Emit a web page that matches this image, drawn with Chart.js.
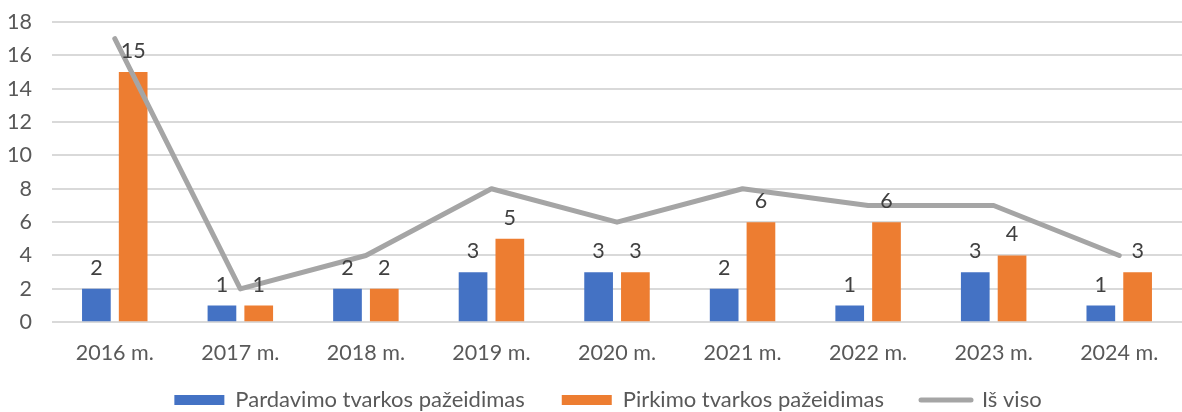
<!DOCTYPE html>
<html>
<head>
<meta charset="utf-8">
<script src="https://cdn.jsdelivr.net/npm/chart.js@4"></script>
<style>
  html, body { margin: 0; padding: 0; background: #fff; overflow: hidden; }
  #wrap { width: 1182px; height: 412px; }
</style>
</head>
<body>
<div id="wrap"><canvas id="chart" width="1182" height="412"></canvas></div>
<script>
const years = ['2016 m.', '2017 m.', '2018 m.', '2019 m.', '2020 m.', '2021 m.', '2022 m.', '2023 m.', '2024 m.'];
const pardavimo = [2, 1, 2, 3, 3, 2, 1, 3, 1];
const pirkimo = [15, 1, 2, 5, 3, 6, 6, 4, 3];
const isViso = [17, 2, 4, 8, 6, 8, 7, 7, 4];
const yTicks = [0, 2, 4, 6, 8, 10, 12, 14, 16, 18];

const FONT = 'Lato, "Open Sans", sans-serif';
const FSIZE = 21.5;

// numbers above the bars (the line has none)
const barLabels = {
    id: 'barLabels',
    afterDatasetsDraw(chart) {
        const ctx = chart.ctx;
        ctx.save();
        ctx.font = FSIZE + 'px ' + FONT;
        ctx.fillStyle = '#404040';
        ctx.textAlign = 'center';
        ctx.textBaseline = 'alphabetic';
        chart.data.datasets.forEach((ds, i) => {
            if (ds.type !== 'bar') return;
            chart.getDatasetMeta(i).data.forEach((bar, j) => {
                ctx.fillText(ds.data[j], bar.x, bar.y - 14);
            });
        });
        ctx.restore();
    }
};

// pull the legend up closer to the axis labels, and a bit to the right
const legendShift = {
    id: 'legendShift',
    afterLayout(chart) {
        const lg = chart.legend;
        if (!lg) return;
        lg.top -= 24;
        lg.bottom -= 24;
        lg.left += 14;
        lg.right += 14;
    }
};

new Chart(document.getElementById('chart').getContext('2d'), {
    data: {
        labels: years,
        datasets: [
            { type: 'bar', label: 'Pardavimo tvarkos pažeidimas', data: pardavimo, backgroundColor: '#4472C4', order: 1 },
            { type: 'bar', label: 'Pirkimo tvarkos pažeidimas', data: pirkimo, backgroundColor: '#ED7D31', order: 2 },
            { type: 'line', label: 'Iš viso', data: isViso, borderColor: '#A5A5A5', backgroundColor: '#A5A5A5',
              borderWidth: 5, pointRadius: 0, tension: 0, borderCapStyle: 'round', borderJoinStyle: 'round', order: 0 }
        ]
    },
    options: {
        responsive: false,
        animation: false,
        layout: { padding: { top: 22, right: -6, left: 0, bottom: -33 } },
        datasets: { bar: { categoryPercentage: 0.586, barPercentage: 0.78 } },
        scales: {
            x: {
                grid: { display: false },
                border: { display: false },
                ticks: { color: '#595959', font: { family: FONT, size: FSIZE }, padding: 10 }
            },
            y: {
                min: 0, max: 18,
                afterBuildTicks: axis => { axis.ticks = yTicks.map(v => ({ value: v })); },
                afterFit: axis => {
                    axis.width = 52;
                    axis.paddingTop = 0;
                    axis.paddingBottom = 0;
                },
                grid: { color: '#D9D9D9', lineWidth: 2, drawTicks: false },
                border: { display: false },
                ticks: { color: '#595959', font: { family: FONT, size: FSIZE }, padding: 20 }
            }
        },
        plugins: {
            tooltip: { enabled: false },
            legend: {
                position: 'bottom',
                labels: {
                    color: '#595959',
                    font: { family: FONT, size: 22 },
                    usePointStyle: true,
                    pointStyleWidth: 50,
                    boxHeight: 10,
                    padding: 37,
                    generateLabels: chart => chart.data.datasets.map((ds, i) => ({
                        text: ds.label,
                        datasetIndex: i,
                        fillStyle: ds.backgroundColor,
                        strokeStyle: ds.type === 'line' ? ds.borderColor : ds.backgroundColor,
                        lineWidth: ds.type === 'line' ? 5 : 0,
                        lineCap: 'round',
                        pointStyle: ds.type === 'line' ? 'line' : 'rect',
                        fontColor: '#595959'
                    }))
                }
            }
        }
    },
    plugins: [barLabels, legendShift]
});
</script>
</body>
</html>
